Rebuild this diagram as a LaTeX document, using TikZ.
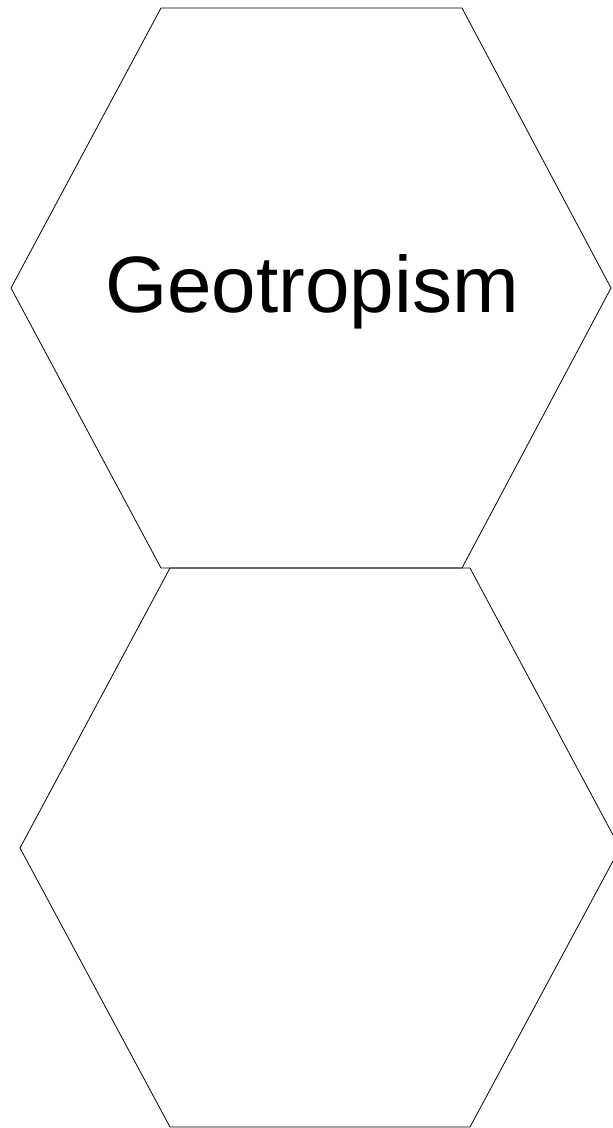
\documentclass[tikz,border=0pt]{standalone}
\usepackage{fontspec}
\setmainfont{Liberation Sans}
\begin{document}
\begin{tikzpicture}[x=1pt,y=-1pt,
  hexline/.style={draw=black,line width=0.8pt,line join=miter},
  lbl/.style={font=\fontsize{80}{94}\selectfont,anchor=base,inner sep=0pt}]
\useasboundingbox (0,0) rectangle (613,1128);
\begin{scope}
\clip (0,0) rectangle (613,1128);
\draw[hexline] (161,8) -- (462,8) -- (611,288) -- (462,568) -- (161,568) -- (11,288) -- cycle;
\draw[hexline] (170,568) -- (470,568) -- (620,848) -- (470,1127) -- (170,1127) -- (20,848) -- cycle;
\end{scope}
\node[lbl] (t) at (312,312) {Geotropism};
\end{tikzpicture}
\end{document}
